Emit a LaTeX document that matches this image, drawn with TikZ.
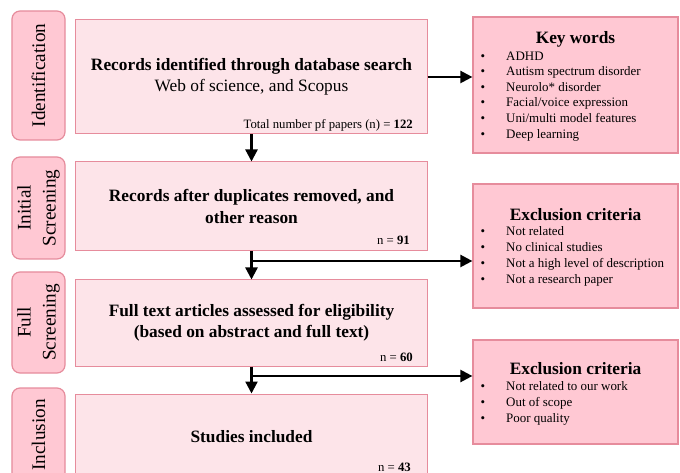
\documentclass[tikz,border=0pt]{standalone}
\usepackage{fontspec}
\setmainfont{Liberation Serif}
\usetikzlibrary{arrows.meta}
\definecolor{boxfill}{RGB}{253,228,233}
\definecolor{boxline}{RGB}{230,140,156}
\definecolor{sidefill}{RGB}{255,200,211}
\begin{document}
\begin{tikzpicture}[x=1bp,y=-1bp,
  mainbox/.style={draw=boxline, fill=boxfill, line width=1bp, minimum width=351bp, inner sep=0pt, align=center, font=\fontsize{17.4}{21.5}\selectfont\bfseries},
  sidebox/.style={draw=boxline, fill=sidefill, line width=1.2bp, minimum width=205bp, inner sep=0pt},
  stagebox/.style={draw=boxline, fill=sidefill, line width=1.2bp, rounded corners=8bp, rotate=90, minimum height=53bp, inner sep=0pt, align=center, font=\fontsize{19.3}{25}\selectfont},
  ntext/.style={anchor=east, inner sep=0pt, font=\fontsize{12.8}{14}\selectfont},
  headtext/.style={inner sep=0pt, font=\fontsize{17.4}{20}\selectfont\bfseries},
  itemtext/.style={anchor=west, inner sep=0pt, text height=9bp, text depth=3bp, font=\fontsize{13}{15}\selectfont},
  bultext/.style={inner sep=0pt, text height=9bp, text depth=3bp, font=\fontsize{13}{15}\selectfont},
  arr/.style={line width=2.3bp, -{Triangle[length=12bp,width=12bp]}}
]
\useasboundingbox (0,0) rectangle (680,473);
\clip (0,0) rectangle (680,473);

% stage labels
\node[stagebox, minimum width=129bp] (sid) at (38.5,75.5) {Identification};
\node[stagebox, minimum width=102bp] (sis) at (38.5,208) {Initial\\Screening};
\node[stagebox, minimum width=101bp] (sfs) at (38.5,322.5) {Full\\Screening};
\node[stagebox, minimum width=94bp] (sin) at (38.5,435) {Inclusion};

% main boxes
\node[mainbox, minimum height=114bp] (b1) at (251.5,77) {Records identified through database search\\{\mdseries Web of science, and Scopus}};
\node[mainbox, minimum height=89bp] (b2) at (251.5,206.5) {Records after duplicates removed, and\\other reason};
\node[mainbox, minimum height=86bp] (b3) at (251.5,323) {Full text articles assessed for eligibility\\(based on abstract and full text)};
\node[mainbox, minimum height=86bp] (b4) at (251.5,437) {Studies included};

\node[ntext] (n1) at (413,125) {Total number pf papers (n) = \textbf{122}};
\node[ntext] (n2) at (410,240) {n = \textbf{91}};
\node[ntext] (n3) at (413,357) {n = \textbf{60}};
\node[ntext] (n4) at (411,467) {n = \textbf{43}};

% side boxes
\node[sidebox, minimum height=136bp] (kw) at (575.5,85) {};
\node[sidebox, minimum height=124bp] (e1) at (575.5,246) {};
\node[sidebox, minimum height=104bp] (e2) at (575.5,392) {};

\node[headtext] (kwh) at (575.5,39) {Key words};
\foreach \t [count=\i] in {ADHD, Autism spectrum disorder, Neurolo* disorder, Facial/voice expression, Uni/multi model features, Deep learning}{
  \node[bultext] (kwb\i) at (483,{41.5+15.6*\i}) {•};
  \node[itemtext] (kwi\i) at (506,{41.5+15.6*\i}) {\t};
}

\node[headtext] (e1h) at (575.5,215) {Exclusion criteria};
\foreach \t [count=\i] in {Not related, No clinical studies, Not a high level of description, Not a research paper}{
  \node[bultext] (e1b\i) at (483,{217+16*\i}) {•};
  \node[itemtext] (e1i\i) at (506,{217+16*\i}) {\t};
}

\node[headtext] (e2h) at (575.5,369) {Exclusion criteria};
\foreach \t [count=\i] in {Not related to our work, Out of scope, Poor quality}{
  \node[bultext] (e2b\i) at (483,{371+16*\i}) {•};
  \node[itemtext] (e2i\i) at (506,{371+16*\i}) {\t};
}

% connectors
\coordinate (j1) at (251.5,261);
\coordinate (j2) at (251.5,376);
\draw[arr] (b1.east) -- (b1.east -| kw.west);
\draw[arr] (b1.south) -- (b2.north);
\draw[arr] (b2.south) -- (b3.north);
\draw[arr] (b3.south) -- (b4.north);
\draw[arr] (j1) -- (j1 -| e1.west);
\draw[arr] (j2) -- (j2 -| e2.west);
\end{tikzpicture}
\end{document}
